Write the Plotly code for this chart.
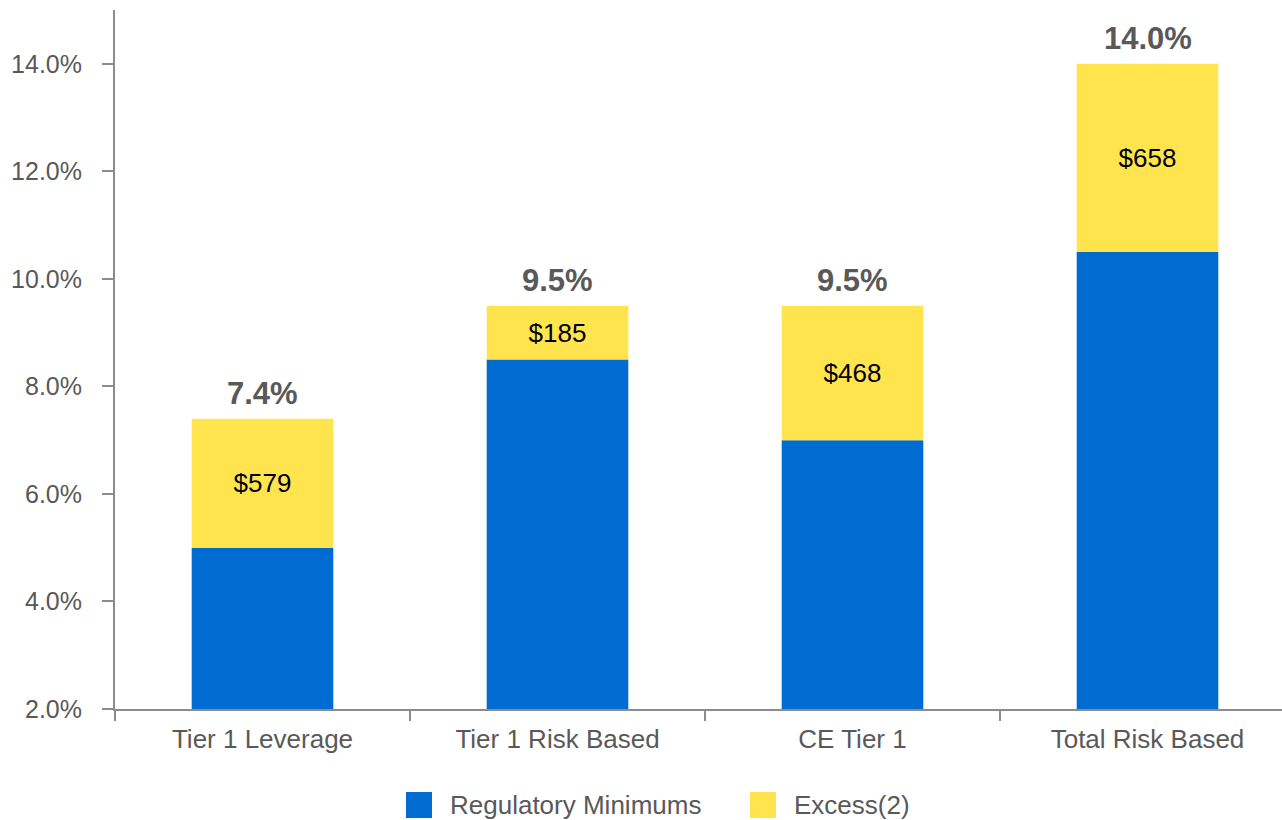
import plotly.graph_objects as go

# Capital ratios by measure (percent)
categories = ["Tier 1 Leverage", "Tier 1 Risk Based", "CE Tier 1", "Total Risk Based"]
regulatory_minimums = [5.0, 8.5, 7.0, 10.5]
total_ratios = [7.4, 9.5, 9.5, 14.0]
excess_dollars = [579, 185, 468, 658]  # excess capital, $ millions

AXIS_FLOOR = 2.0
excess = [round(t - m, 2) for t, m in zip(total_ratios, regulatory_minimums)]

BLUE = "#006CD1"
YELLOW = "#FFE44D"
GREY_TEXT = "#595959"
AXIS_GREY = "#8C8C8C"
FONT = "Liberation Sans, Arial, sans-serif"

W, H = 1282, 820
M_L, M_R, M_T, M_B = 115, 0, 10, 111
PLOT_W = W - M_L - M_R
PLOT_H = H - M_T - M_B
CAT_STEP = 295  # pixels per category slot

fig = go.Figure()
fig.add_trace(go.Bar(
    x=categories, y=[m - AXIS_FLOOR for m in regulatory_minimums], base=AXIS_FLOOR,
    name="Regulatory Minimums", marker=dict(color=BLUE, line=dict(width=0)),
    width=0.48, showlegend=False,
))
fig.add_trace(go.Bar(
    x=categories, y=excess, base=regulatory_minimums,
    name="Excess(2)", marker=dict(color=YELLOW, line=dict(width=0)),
    width=0.48, showlegend=False,
    text=[f"${v}" for v in excess_dollars],
    textposition="inside", insidetextanchor="middle", textangle=0,
    textfont=dict(family=FONT, size=26, color="#000000"),
    constraintext="none",
))

# Total ratio labels above each stack
for cat, tot in zip(categories, total_ratios):
    fig.add_annotation(
        x=cat, y=tot, text=f"<b>{tot:.1f}%</b>", showarrow=False,
        yanchor="bottom", yshift=6,
        font=dict(family=FONT, size=31, color=GREY_TEXT),
    )


def px_to_paper_x(px):
    return (px - M_L) / PLOT_W


def px_to_paper_y(py):
    return (H - M_B - py) / PLOT_H


# Legend drawn below the plot
legend_items = [("Regulatory Minimums", BLUE, 406), ("Excess(2)", YELLOW, 750)]
for label, color, left in legend_items:
    fig.add_shape(
        type="rect", xref="paper", yref="paper",
        x0=px_to_paper_x(left), x1=px_to_paper_x(left + 26),
        y0=px_to_paper_y(792), y1=px_to_paper_y(818),
        fillcolor=color, line=dict(width=0),
    )
    fig.add_annotation(
        xref="paper", yref="paper",
        x=px_to_paper_x(left + 42), y=px_to_paper_y(805),
        xanchor="left", yanchor="middle", showarrow=False, text=label,
        font=dict(family=FONT, size=26, color=GREY_TEXT),
    )

fig.update_layout(
    width=W, height=H,
    margin=dict(l=M_L, r=M_R, t=M_T, b=M_B, pad=0),
    paper_bgcolor="white", plot_bgcolor="white",
    barmode="overlay", showlegend=False,
    font=dict(family=FONT, size=24, color=GREY_TEXT),
)
fig.update_xaxes(
    type="category",
    range=[-0.5, -0.5 + PLOT_W / CAT_STEP],
    showline=True, linecolor=AXIS_GREY, linewidth=2,
    ticks="outside", tickson="boundaries", ticklen=10, tickwidth=2, tickcolor=AXIS_GREY,
    ticklabelstandoff=6,
    showgrid=False, zeroline=False,
    tickfont=dict(family=FONT, size=26, color=GREY_TEXT),
)
fig.update_yaxes(
    range=[2, 15], tick0=2, dtick=2,
    tickformat=".1f", ticksuffix="%",
    showline=True, linecolor=AXIS_GREY, linewidth=2,
    ticks="outside", ticklen=11, tickwidth=2, tickcolor=AXIS_GREY,
    ticklabelstandoff=15,
    showgrid=False, zeroline=False,
    tickfont=dict(family=FONT, size=25, color=GREY_TEXT),
)

fig.write_html("out.html")
